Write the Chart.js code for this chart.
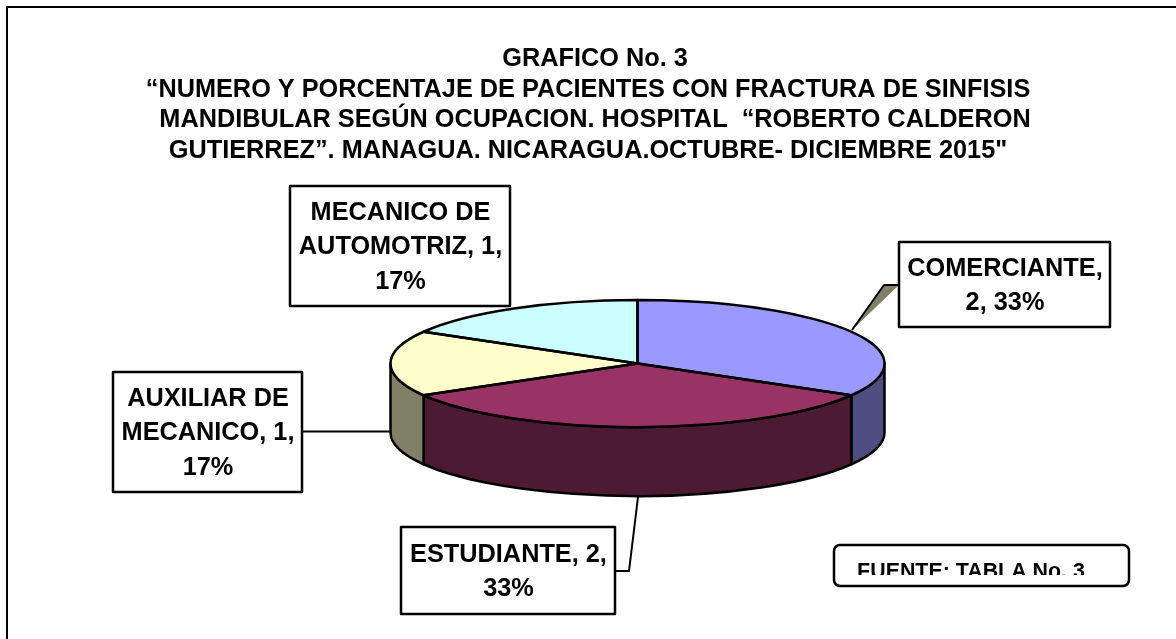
<!DOCTYPE html>
<html><head><meta charset="utf-8">
<style>html,body{margin:0;padding:0;background:#fff}canvas{display:block}</style>
<script src="https://cdn.jsdelivr.net/npm/chart.js@4"></script>
</head><body>
<div style="width:1176px;height:639px"><canvas id="c" width="1176" height="639"></canvas></div>
<script>
const categories = ["COMERCIANTE","ESTUDIANTE","AUXILIAR DE MECANICO","MECANICO DE AUTOMOTRIZ"];
const counts = [2,2,1,1];
const topColors = ["#9999FF","#993366","#FFFFCC","#CCFFFF"];
const wallColors = ["#4D4D80","#4D1A33","#808066","#668080"];
const titleLines = ["  GRAFICO No. 3","“NUMERO Y PORCENTAJE DE PACIENTES CON FRACTURA DE SINFISIS","  MANDIBULAR SEGÚN OCUPACION. HOSPITAL  “ROBERTO CALDERON","GUTIERREZ”. MANAGUA. NICARAGUA.OCTUBRE- DICIEMBRE 2015\""];
const sourceNote = "FUENTE: TABLA No. 3";

const FONT = '"Liberation Sans", Arial, sans-serif';
const G = {cx:637.5, cy:363.5, rx:247, ry:63.5, depth:69};
const boxes = [
  {x:899,y:242,w:211,h:85},
  {x:401,y:527,w:214,h:87},
  {x:113,y:372,w:189,h:120},
  {x:290,y:186,w:220,h:120}
];
function wrap(ctx,t,w){const out=[];let l="";for(const p of t.split(" ")){const n=l?l+" "+p:p;if(ctx.measureText(n).width>w&&l){out.push(l);l=p}else l=n}out.push(l);return out}

const pie3d = {
  id:"pie3d",
  beforeDatasetsDraw(chart){
    const ctx=chart.ctx, arcs=chart.getDatasetMeta(0).data, R=arcs[0].outerRadius;
    ctx.save();
    ctx.lineWidth=2.5; ctx.strokeStyle="#000"; ctx.lineJoin="round";
    arcs.forEach((a,i)=>{
      // only the part of the slice facing the viewer (canvas angles 0..PI) has a wall
      [0,2*Math.PI,-2*Math.PI].forEach(off=>{
        const s2=Math.max(a.startAngle+off,0), e2=Math.min(a.endAngle+off,Math.PI);
        if(e2<=s2) return;
        ctx.beginPath();
        ctx.ellipse(G.cx,G.cy,G.rx,G.ry,0,s2,e2);
        ctx.ellipse(G.cx,G.cy+G.depth,G.rx,G.ry,0,e2,s2,true);
        ctx.closePath();
        ctx.fillStyle=wallColors[i]; ctx.fill(); ctx.stroke();
      });
    });
    ctx.restore();
    ctx.save();
    ctx.translate(G.cx,G.cy);
    ctx.scale(G.rx/R,G.ry/R);
    ctx.translate(-arcs[0].x,-arcs[0].y);
  },
  afterDatasetsDraw(chart){
    const ctx=chart.ctx, arcs=chart.getDatasetMeta(0).data;
    ctx.restore();
    ctx.save();
    ctx.lineWidth=2.5; ctx.strokeStyle="#000"; ctx.lineJoin="round";
    arcs.forEach(a=>{
      ctx.beginPath();
      ctx.moveTo(G.cx,G.cy);
      ctx.ellipse(G.cx,G.cy,G.rx,G.ry,0,a.startAngle,a.endAngle);
      ctx.closePath(); ctx.stroke();
    });
    // leader lines
    ctx.lineWidth=2;
    ctx.beginPath();ctx.moveTo(852,330);ctx.lineTo(884,285);ctx.lineTo(899,285);ctx.closePath();
    ctx.fillStyle="#808066";ctx.fill();
    ctx.beginPath();ctx.moveTo(852,330);ctx.lineTo(884,285);ctx.lineTo(899,285);ctx.stroke();
    ctx.beginPath();ctx.moveTo(302,431.5);ctx.lineTo(390,431.5);ctx.stroke();
    ctx.beginPath();ctx.moveTo(615,571);ctx.lineTo(629,571);ctx.lineTo(638,497);ctx.stroke();
    // label boxes
    ctx.lineWidth=2.5;
    ctx.font="bold 25.3px "+FONT; ctx.textAlign="center"; ctx.textBaseline="middle";
    const total=counts.reduce((p,c)=>p+c,0);
    boxes.forEach((b,i)=>{
      ctx.fillStyle="#fff";ctx.fillRect(b.x,b.y,b.w,b.h);ctx.strokeRect(b.x,b.y,b.w,b.h);
      const t=categories[i]+", "+counts[i]+", "+Math.round(counts[i]/total*100)+"%";
      const ls=wrap(ctx,t,b.w-8), lh=34.5;
      ctx.fillStyle="#000";
      ls.forEach((l,k)=>ctx.fillText(l,b.x+b.w/2+0.5,b.y+b.h/2+1.5+(k-(ls.length-1)/2)*lh));
    });
    // source note, clipped by its own box as in the reference
    ctx.beginPath();ctx.roundRect(834,545,295,41,6);ctx.fillStyle="#fff";ctx.fill();ctx.stroke();
    ctx.save();ctx.beginPath();ctx.rect(836,547,291,28);ctx.clip();
    ctx.font="bold 21.4px "+FONT;ctx.fillStyle="#000";ctx.textAlign="center";ctx.textBaseline="alphabetic";
    ctx.fillText(sourceNote,971,578);ctx.restore();
    ctx.restore();
  },
  afterDraw(chart){
    const ctx=chart.ctx;ctx.save();ctx.lineWidth=2;ctx.strokeStyle="#000";
    ctx.beginPath();ctx.moveTo(7,639);ctx.lineTo(7,7);ctx.lineTo(1176,7);ctx.stroke();ctx.restore();
  }
};

new Chart(document.getElementById("c"),{
  type:"pie",
  data:{labels:categories,datasets:[{data:counts,backgroundColor:topColors,borderWidth:0}]},
  options:{
    responsive:false,animation:false,
    events:[],
    plugins:{
      legend:{display:false},tooltip:{enabled:false},
      title:{display:true,text:titleLines,color:"#000",align:"center",
        font:{family:FONT,size:25.3,weight:"bold",lineHeight:1.205},padding:{top:44,bottom:10}}
    }
  },
  plugins:[pie3d]
});
</script></body></html>
